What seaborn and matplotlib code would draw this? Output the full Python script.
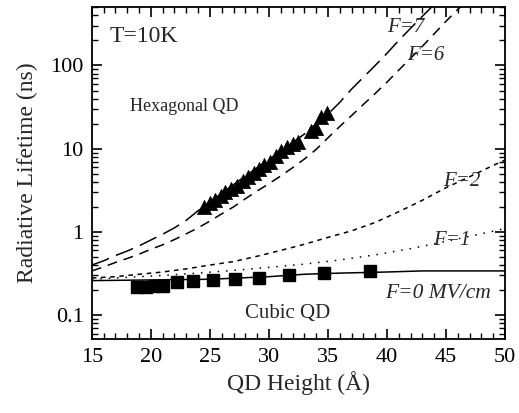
import numpy as np
import pandas as pd
import seaborn as sns
import matplotlib
matplotlib.use("Agg")
import matplotlib.pyplot as plt
from matplotlib.ticker import MultipleLocator, LogLocator, NullFormatter, FixedLocator, FixedFormatter

# calculated curves (QD height in Angstrom, lifetime in ns)
h_f7 = [15, 16, 17, 18, 19, 20, 21, 22, 23, 24, 25, 26, 27, 28, 29, 30,
        31, 32, 33, 34, 35, 36, 37, 38, 39, 40, 41, 42, 43, 44]
tau_f7 = [0.40, 0.45, 0.52, 0.59, 0.68, 0.80, 0.94, 1.12, 1.38, 1.8, 2.3, 2.9,
          3.7, 4.7, 5.9, 7.4, 9.3, 11.8, 15, 20, 26, 36, 52, 72, 100, 140,
          200, 280, 390, 540]

h_f6 = [15, 16, 17, 18, 19, 20, 21, 22, 23, 24, 25, 26, 27, 28, 29, 30, 31,
        32, 33, 34, 35, 36, 37, 38, 39, 40, 41, 42, 43, 44, 45, 46, 47]
tau_f6 = [0.34, 0.38, 0.43, 0.48, 0.54, 0.62, 0.70, 0.81, 0.95, 1.12, 1.35,
          1.65, 2.0, 2.5, 3.1, 3.8, 4.7, 5.9, 7.5, 9.8, 13.5, 18.5, 25, 34,
          46, 63, 88, 122, 170, 240, 340, 470, 650]

h_f2 = [15, 17, 19, 21, 23, 25, 27, 29, 31, 33, 35, 37, 39, 41, 43, 45, 47, 49, 50]
tau_f2 = [0.28, 0.29, 0.31, 0.33, 0.36, 0.40, 0.44, 0.51, 0.60, 0.71, 0.86,
          1.03, 1.3, 1.75, 2.4, 3.4, 4.6, 6.3, 7.3]

h_f1 = [15, 18, 21, 24, 27, 30, 33, 36, 39, 42, 45, 48, 50]
tau_f1 = [0.27, 0.285, 0.30, 0.32, 0.345, 0.375, 0.41, 0.46, 0.53, 0.63, 0.77, 0.95, 1.1]

h_f0 = [15, 20, 25, 30, 33, 36, 40, 43, 50]
tau_f0 = [0.26, 0.265, 0.27, 0.29, 0.31, 0.32, 0.33, 0.34, 0.34]

# measured: hexagonal QDs (triangles)
hex_h = [24.5, 25.0, 25.4, 25.9, 26.3, 26.8, 27.3, 27.8, 28.2, 28.7, 29.2,
         29.6, 30.1, 30.6, 31.0, 31.5, 32.0, 32.5, 33.6, 34.0, 34.4, 34.9]
hex_tau = [2.0, 2.2, 2.4, 2.7, 3.0, 3.3, 3.6, 4.1, 4.6, 5.1, 5.7, 6.3, 7.0,
           8.2, 9.5, 10.5, 11.3, 12.2, 16.5, 17.5, 24, 27]

# measured: cubic QDs (squares with error bars)
cub_h = [18.8, 19.6, 20.3, 21.0, 22.2, 23.6, 25.3, 27.1, 29.2, 31.7, 34.7, 38.6]
cub_tau = [0.215, 0.22, 0.225, 0.225, 0.25, 0.26, 0.265, 0.27, 0.28, 0.30, 0.32, 0.335]
cub_err = [0.025, 0.025, 0.025, 0.025, 0.028, 0.03, 0.03, 0.03, 0.03, 0.03, 0.035, 0.04]

sns.set_theme(style="ticks")
plt.rcParams["font.family"] = ["Liberation Serif", "DejaVu Serif"]

fig = plt.figure(figsize=(5.19, 4.13), dpi=100)
ax = fig.add_axes([0.177, 0.178, 0.796, 0.806])

curves = [
    (h_f7, tau_f7, (0, (12, 5))),
    (h_f6, tau_f6, (0, (6.5, 4.5))),
    (h_f2, tau_f2, (0, (3, 3))),
    (h_f1, tau_f1, (0, (1, 4.5))),
    (h_f0, tau_f0, "-"),
]
for hx, ty, ls in curves:
    sns.lineplot(x=hx, y=ty, color="black", lw=1.1, linestyle=ls, ax=ax,
                 estimator=None, sort=False)

sns.scatterplot(x=hex_h, y=hex_tau, marker="^", s=105, color="black",
                edgecolor="black", linewidth=0.5, ax=ax, zorder=3)
ax.errorbar(cub_h, cub_tau, yerr=cub_err, fmt="s", ms=8, color="black",
            ecolor="black", elinewidth=1, capsize=2.5, zorder=3)

ax.set_yscale("log")
ax.set_xlim(15, 50)
ax.set_ylim(0.051, 510)

ax.xaxis.set_major_locator(MultipleLocator(5))
ax.xaxis.set_minor_locator(MultipleLocator(1))
ax.yaxis.set_major_locator(FixedLocator([0.1, 1, 10, 100]))
ax.yaxis.set_major_formatter(FixedFormatter(["0.1", "1", "10", "100"]))
ax.yaxis.set_minor_locator(LogLocator(base=10, subs=np.arange(2, 10), numticks=20))
ax.yaxis.set_minor_formatter(NullFormatter())

ax.tick_params(which="both", direction="in", top=True, right=True,
               bottom=True, left=True, labelsize=16, labelcolor="black")
ax.tick_params(which="major", length=7.5, width=1.2, pad=6, color="black")
ax.tick_params(which="minor", length=4, width=1.0, color="black")
for sp in ax.spines.values():
    sp.set_linewidth(1.3)
    sp.set_color("black")

ax.set_xlabel("QD Height (Å)", fontsize=17, labelpad=3)
ax.set_ylabel("Radiative Lifetime (ns)", fontsize=17, labelpad=9)

ax.text(0.044, 0.91, "T=10K", transform=ax.transAxes, fontsize=17,
        va="center", ha="left")
ax.text(0.092, 0.70, "Hexagonal QD", transform=ax.transAxes, fontsize=13,
        va="center", ha="left")
ax.text(0.37, 0.079, "Cubic QD", transform=ax.transAxes, fontsize=15,
        va="center", ha="left")
ax.text(0.714, 0.936, "F=7", transform=ax.transAxes, fontsize=15,
        style="italic", va="center", ha="left")
ax.text(0.763, 0.853, "F=6", transform=ax.transAxes, fontsize=15,
        style="italic", va="center", ha="left")
ax.text(0.85, 0.474, "F=2", transform=ax.transAxes, fontsize=15,
        style="italic", va="center", ha="left")
ax.text(0.826, 0.297, "F=1", transform=ax.transAxes, fontsize=15,
        style="italic", va="center", ha="left")
ax.text(0.709, 0.138, "F=0 MV/cm", transform=ax.transAxes, fontsize=15.5,
        style="italic", va="center", ha="left")

fig.savefig("out.png", dpi=100)
